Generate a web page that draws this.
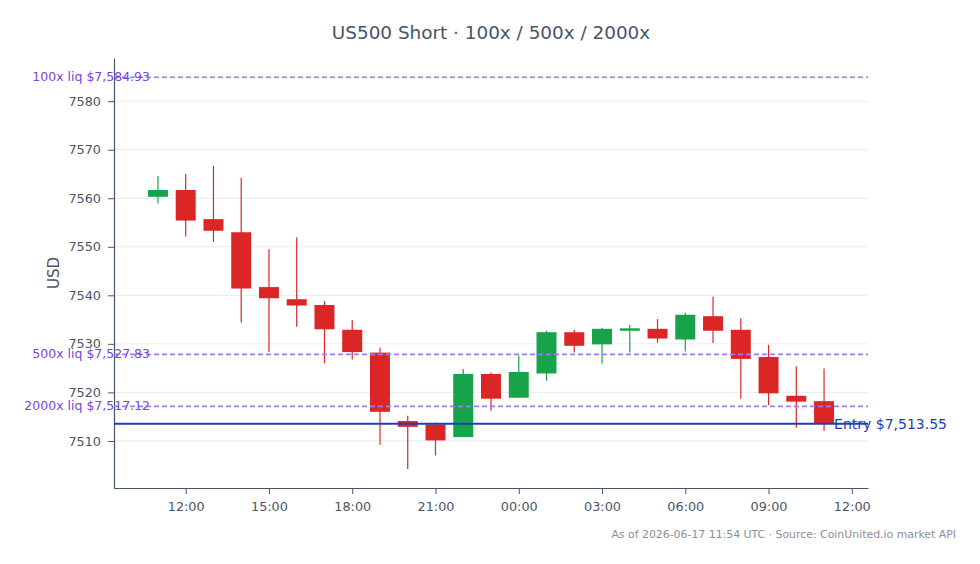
<!DOCTYPE html>
<html>
<head>
<meta charset="utf-8">
<script src="https://cdn.jsdelivr.net/npm/d3@7"></script>
<style>
  body { margin: 0; background: #fff; }
  svg { font-family: "DejaVu Sans", sans-serif; display: block; }
</style>
</head>
<body>
<div id="chart"></div>
<script>
const width = 980;
const height = 564;
const margin = { top: 58, right: 112, bottom: 76, left: 114 };

// hourly candles, 2026-06-16 11:00 UTC -> 2026-06-17 11:00 UTC
const startTime = "2026-06-16T11:00:00Z";
const opens = [7560.3, 7561.7, 7555.7, 7553.0, 7541.7, 7539.2, 7538.0, 7532.9, 7528.2, 7514.1, 7513.4, 7510.8, 7523.8, 7518.9, 7523.9, 7532.4, 7529.9, 7532.7, 7533.1, 7530.9, 7535.7, 7532.9, 7527.3, 7519.3, 7518.2];
const highs = [7564.6, 7565.0, 7566.7, 7564.2, 7549.5, 7551.9, 7538.8, 7534.9, 7529.2, 7515.2, 7513.8, 7524.8, 7524.1, 7527.6, 7532.7, 7532.9, 7533.3, 7533.9, 7535.1, 7536.4, 7539.7, 7535.3, 7529.8, 7525.4, 7524.9];
const lows = [7558.9, 7552.1, 7551.0, 7534.4, 7528.3, 7533.5, 7526.0, 7526.8, 7509.2, 7504.2, 7507.0, 7510.8, 7516.2, 7518.9, 7522.4, 7528.2, 7525.9, 7528.2, 7530.2, 7528.4, 7530.2, 7518.7, 7517.4, 7512.7, 7512.1];
const closes = [7561.7, 7555.4, 7553.3, 7541.4, 7539.4, 7537.9, 7533.0, 7528.3, 7516.0, 7512.9, 7510.1, 7523.8, 7518.7, 7524.2, 7532.4, 7529.6, 7533.1, 7533.2, 7531.1, 7536.0, 7532.7, 7526.9, 7519.8, 7518.1, 7513.6];

const liqLabels = ["100x liq $7,584.93", "500x liq $7,527.83", "2000x liq $7,517.12"];
const liqPrices = [7584.93, 7527.83, 7517.12];
const entryPrice = 7513.55;
const entryLabel = "Entry $7,513.55";

const yTicks = [7510, 7520, 7530, 7540, 7550, 7560, 7570, 7580];
const yDomain = [7500.3, 7588.9];

const title = "US500 Short · 100x / 500x / 2000x";
const footer = "As of 2026-06-17 11:54 UTC · Source: CoinUnited.io market API";

const GREEN = "#16a34a";
const RED = "#dc2626";
const AXIS = "#475569";
const TEXT = "#4b5563";

const t0 = new Date(startTime);
const candles = opens.map((o, i) => ({
  time: d3.utcHour.offset(t0, i),
  open: o,
  high: highs[i],
  low: lows[i],
  close: closes[i],
}));

const svg = d3
  .select("#chart")
  .append("svg")
  .attr("width", width)
  .attr("height", height);

const pad = 95 * 60 * 1000;
const x = d3
  .scaleUtc()
  .domain([+candles[0].time - pad, +candles[candles.length - 1].time + pad])
  .range([margin.left, width - margin.right]);
const y = d3
  .scaleLinear()
  .domain(yDomain)
  .range([height - margin.bottom, margin.top]);

// grid
svg
  .append("g")
  .selectAll("line")
  .data(yTicks)
  .join("line")
  .attr("x1", margin.left)
  .attr("x2", width - margin.right)
  .attr("y1", (d) => y(d))
  .attr("y2", (d) => y(d))
  .attr("stroke", "#e8ebf0")
  .attr("stroke-width", 1);

// axes
const yAxis = svg
  .append("g")
  .attr("transform", `translate(${margin.left},0)`)
  .call(
    d3
      .axisLeft(y)
      .tickValues(yTicks)
      .tickFormat(d3.format("d"))
      .tickSize(6)
      .tickPadding(7)
      .tickSizeOuter(0)
  );
const xAxis = svg
  .append("g")
  .attr("transform", `translate(0,${height - margin.bottom})`)
  .call(
    d3
      .axisBottom(x)
      .ticks(d3.utcHour.every(3))
      .tickFormat(d3.utcFormat("%H:%M"))
      .tickSize(6)
      .tickPadding(4)
      .tickSizeOuter(0)
  );
[xAxis, yAxis].forEach((g) => {
  g.select(".domain").attr("stroke", AXIS).attr("stroke-width", 1.2);
  g.selectAll(".tick line").attr("stroke", AXIS);
  g.selectAll(".tick text")
    .attr("fill", TEXT)
    .style("font-size", "12.8px")
    .style("font-family", "DejaVu Sans, sans-serif");
});
xAxis.selectAll(".tick text").attr("dy", "1.05em");

svg
  .append("text")
  .attr("transform", `translate(59,${(margin.top + height - margin.bottom) / 2}) rotate(-90)`)
  .attr("text-anchor", "middle")
  .attr("fill", TEXT)
  .style("font-size", "15px")
  .text("USD");

// candles
const step = x(d3.utcHour.offset(t0, 1)) - x(t0);
const bodyW = step * 0.72;
const cg = svg.append("g").selectAll("g").data(candles).join("g");
cg.append("line")
  .attr("x1", (d) => x(d.time))
  .attr("x2", (d) => x(d.time))
  .attr("y1", (d) => y(d.high))
  .attr("y2", (d) => y(d.low))
  .attr("stroke", (d) => (d.close >= d.open ? GREEN : RED))
  .attr("stroke-width", 1.2);
cg.append("rect")
  .attr("x", (d) => x(d.time) - bodyW / 2)
  .attr("width", bodyW)
  .attr("y", (d) => y(Math.max(d.open, d.close)))
  .attr("height", (d) => Math.max(1, Math.abs(y(d.open) - y(d.close))))
  .attr("fill", (d) => (d.close >= d.open ? GREEN : RED));

// liquidation levels
const liq = svg
  .append("g")
  .selectAll("g")
  .data(liqPrices.map((p, i) => ({ price: p, label: liqLabels[i] })))
  .join("g");
liq
  .append("line")
  .attr("x1", margin.left)
  .attr("x2", width - margin.right)
  .attr("y1", (d) => y(d.price))
  .attr("y2", (d) => y(d.price))
  .attr("stroke", "#9d7cec")
  .attr("stroke-width", 1.6)
  .attr("stroke-dasharray", "5,3");
liq
  .append("text")
  .attr("x", margin.left + 36)
  .attr("y", (d) => y(d.price) + 4)
  .attr("text-anchor", "end")
  .attr("fill", "#7b45d6")
  .style("font-size", "12.5px")
  .text((d) => d.label);

// entry
svg
  .append("line")
  .attr("x1", margin.left)
  .attr("x2", width - margin.right)
  .attr("y1", y(entryPrice))
  .attr("y2", y(entryPrice))
  .attr("stroke", "#1e40af")
  .attr("stroke-width", 2);
svg
  .append("text")
  .attr("x", x(candles[candles.length - 1].time) + 10)
  .attr("y", y(entryPrice) + 5)
  .attr("fill", "#1e40af")
  .style("font-size", "14px")
  .text(entryLabel);

// title + footer
svg
  .append("text")
  .attr("x", 491)
  .attr("y", 39)
  .attr("text-anchor", "middle")
  .attr("fill", "#475569")
  .style("font-size", "18.4px")
  .text(title);
svg
  .append("text")
  .attr("x", 956)
  .attr("y", 538)
  .attr("text-anchor", "end")
  .attr("fill", "#8a8f99")
  .style("font-size", "10.9px")
  .text(footer);
</script>
</body>
</html>
